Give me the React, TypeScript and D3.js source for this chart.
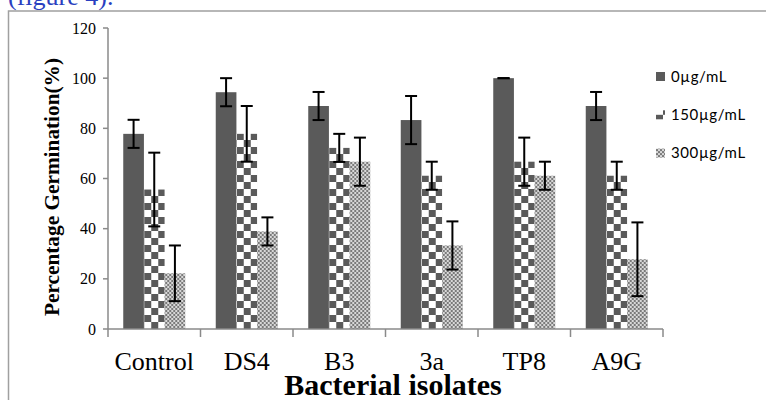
import * as d3 from "d3";

const isolates = ["Control", "DS4", "B3", "3a", "TP8", "A9G"];
const doses = ["0µg/mL", "150µg/mL", "300µg/mL"];
const dose0 = [77.8, 94.4, 88.9, 83.3, 100, 88.9];
const dose150 = [55.6, 77.8, 72.2, 61.1, 66.7, 61.1];
const dose300 = [22.2, 38.9, 66.7, 33.3, 61.1, 27.8];
const err0 = [5.6, 5.6, 5.6, 9.6, 0, 5.6];
const err150 = [14.7, 11.1, 5.6, 5.6, 9.6, 5.6];
const err300 = [11.1, 5.6, 9.6, 9.6, 5.6, 14.7];
const yTicks = [0, 20, 40, 60, 80, 100, 120];

const W = 766;
const H = 400;
const marginLeft = 108;
const marginRight = 103;
const marginTop = 28;
const marginBottom = 71;

export default function App() {
  const series = [dose0, dose150, dose300];
  const errs = [err0, err150, err300];
  const fills = ["#5a5a5a", "url(#checker)", "url(#dots)"];

  const x = d3.scaleBand(isolates, [marginLeft, W - marginRight]).paddingInner(0).paddingOuter(0);
  const inner = d3.scaleBand(d3.range(3).map(String), [0, 62]);
  const offset = (x.bandwidth() - 62) / 2;
  const y = d3.scaleLinear([0, 120], [H - marginBottom, marginTop]);
  const y0 = y(0);
  const serif = "'Liberation Serif', 'DejaVu Serif', serif";

  return (
    <svg width={W} height={H} style={{ position: "absolute", left: 0, top: 0 }}>
      <defs>
        <pattern id="checker" width="14" height="14" patternUnits="userSpaceOnUse">
          <rect width="14" height="14" fill="#ffffff" />
          <rect width="7" height="7" fill="#5a5a5a" />
          <rect x="7" y="7" width="7" height="7" fill="#5a5a5a" />
        </pattern>
        <pattern id="dots" width="4" height="4" patternUnits="userSpaceOnUse">
          <rect width="4" height="4" fill="#d8d8d8" />
          <rect width="2" height="2" fill="#7a7a7a" />
          <rect x="2" y="2" width="2" height="2" fill="#7a7a7a" />
        </pattern>
      </defs>
      <rect width={W} height={H} fill="#ffffff" />
      <text x={8} y={5} fill="#2a3fc0" fontFamily={serif} fontSize={26}>(figure 4).</text>
      <rect x={8.5} y={11} width={W} height={H} fill="none" stroke="#a0a0a0" strokeWidth={1.5} />

      {/* y axis */}
      <line x1={marginLeft} x2={marginLeft} y1={y(120)} y2={y0} stroke="#8a8a8a" strokeWidth={1.5} />
      {yTicks.map((t) => (
        <g key={t}>
          <line x1={marginLeft - 5} x2={marginLeft} y1={y(t)} y2={y(t)} stroke="#8a8a8a" strokeWidth={1.5} />
          <text x={96} y={y(t)} dy="0.35em" textAnchor="end" fontFamily={serif} fontSize={16}>{t}</text>
        </g>
      ))}
      <text
        transform={`translate(59,187) rotate(-90)`}
        textAnchor="middle"
        fontFamily={serif}
        fontWeight="bold"
        fontSize={22}
        textLength={258}
        lengthAdjust="spacingAndGlyphs"
      >
        Percentage Germination(%)
      </text>

      {/* bars */}
      {isolates.map((iso, i) => (
        <g key={iso} transform={`translate(${(x(iso) ?? 0) + offset},0)`}>
          {series.map((s, k) => (
            <rect key={k} x={inner(String(k))} y={y(s[i])} width={inner.bandwidth()} height={y0 - y(s[i])} fill={fills[k]} />
          ))}
          {series.map((s, k) => {
            const cx = (inner(String(k)) ?? 0) + inner.bandwidth() / 2;
            const hi = y(s[i] + errs[k][i]);
            const lo = y(s[i] - errs[k][i]);
            return (
              <g key={"e" + k} stroke="#000" strokeWidth={2}>
                <line x1={cx} x2={cx} y1={hi} y2={lo} />
                <line x1={cx - 6} x2={cx + 6} y1={hi} y2={hi} />
                <line x1={cx - 6} x2={cx + 6} y1={lo} y2={lo} />
              </g>
            );
          })}
        </g>
      ))}

      {/* x axis */}
      <line x1={marginLeft} x2={W - marginRight} y1={y0} y2={y0} stroke="#8a8a8a" strokeWidth={1.5} />
      {isolates.map((iso) => (
        <line key={"t" + iso} x1={x(iso)} x2={x(iso)} y1={y0} y2={y0 + 8} stroke="#8a8a8a" strokeWidth={1.5} />
      ))}
      <line x1={W - marginRight} x2={W - marginRight} y1={y0} y2={y0 + 8} stroke="#8a8a8a" strokeWidth={1.5} />
      {isolates.map((iso) => (
        <text key={"l" + iso} x={(x(iso) ?? 0) + x.bandwidth() / 2} y={370} textAnchor="middle" fontFamily={serif} fontSize={26}>
          {iso}
        </text>
      ))}
      <text x={393} y={395} textAnchor="middle" fontFamily={serif} fontWeight="bold" fontSize={30}>
        Bacterial isolates
      </text>

      {/* legend */}
      {doses.map((d, k) => (
        <g key={d} transform={`translate(656,${76.5 + k * 38.3})`}>
          <rect x={0} y={-4.5} width={9} height={9} fill={fills[k]} />
          <text x={15} y={0} dy="0.35em" fontFamily="Lato, 'Open Sans', sans-serif" fontSize={15} letterSpacing={0.6}>{d}</text>
        </g>
      ))}
    </svg>
  );
}
